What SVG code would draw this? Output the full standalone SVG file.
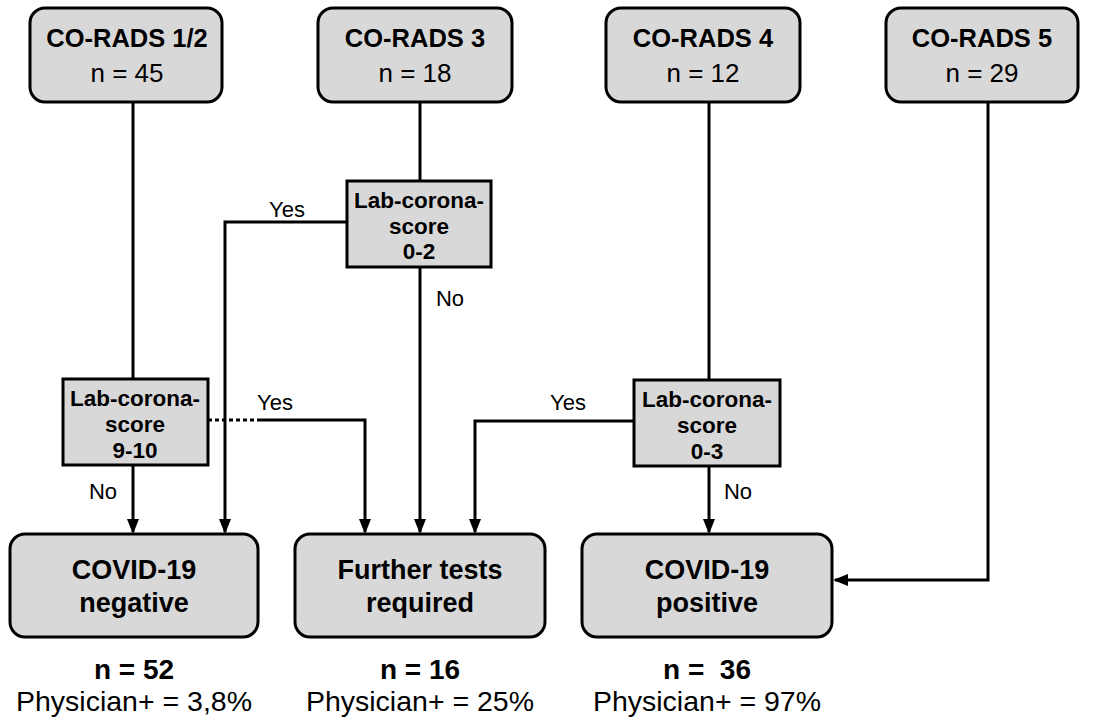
<svg xmlns="http://www.w3.org/2000/svg" width="1094" height="719" viewBox="0 0 1094 719">
<defs>
<style>
.rb{fill:#d9d8d8;stroke:#000;stroke-width:3}
.dec{fill:#d9d8d8;stroke:#000;stroke-width:3}
.ln{fill:none;stroke:#000;stroke-width:3}
text{font-family:"Liberation Sans",Arial,sans-serif;fill:#000;text-anchor:middle}
.h{font-size:25.5px;font-weight:bold}
.n{font-size:26px}
.d{font-size:22.5px;font-weight:bold}
.lbl{font-size:22px}
.o{font-size:27px;font-weight:bold}
.nb{font-size:28px;font-weight:bold}
.s{font-size:28.5px}
</style>
<marker id="ah" markerWidth="15" markerHeight="13" refX="13" refY="6.5" orient="auto" markerUnits="userSpaceOnUse">
<path d="M0,0.5 L15,6.5 L0,12.5 z" fill="#000"/>
</marker>
</defs>
<rect width="1094" height="719" fill="#fff"/>
<g id="connectors">
<path class="ln" d="M133,102 V380"/>
<path class="ln" d="M420,102 V181"/>
<path class="ln" d="M709,102 V381"/>
<path class="ln" d="M347,222 H225 V532" marker-end="url(#ah)"/>
<path class="ln" d="M420,267 V532" marker-end="url(#ah)"/>
<path class="ln" d="M133,465 V532" marker-end="url(#ah)"/>
<path class="ln" d="M208,420 H262" stroke-dasharray="4,3"/>
<path class="ln" d="M261,420 H365 V532" marker-end="url(#ah)"/>
<path class="ln" d="M634,421 H475 V532" marker-end="url(#ah)"/>
<path class="ln" d="M709,466 V532" marker-end="url(#ah)"/>
<path class="ln" d="M988,102 V580 H835" marker-end="url(#ah)"/>
<text class="lbl" x="287" y="217">Yes</text>
<text class="lbl" x="450" y="306">No</text>
<text class="lbl" x="275" y="410">Yes</text>
<text class="lbl" x="103" y="499">No</text>
<text class="lbl" x="568" y="410">Yes</text>
<text class="lbl" x="738" y="499">No</text>
</g>
<g id="corads12"><rect class="rb" x="30" y="8" width="192" height="94" rx="15"/><text class="h" x="127" y="47">CO-RADS 1/2</text><text class="n" x="127" y="82">n = 45</text></g>
<g id="corads3"><rect class="rb" x="318" y="8" width="194" height="94" rx="15"/><text class="h" x="415" y="47">CO-RADS 3</text><text class="n" x="415" y="82">n = 18</text></g>
<g id="corads4"><rect class="rb" x="606" y="8" width="194" height="94" rx="15"/><text class="h" x="703" y="47">CO-RADS 4</text><text class="n" x="703" y="82">n = 12</text></g>
<g id="corads5"><rect class="rb" x="886" y="8" width="192" height="94" rx="15"/><text class="h" x="982" y="47">CO-RADS 5</text><text class="n" x="982" y="82">n = 29</text></g>
<g id="lab02"><rect class="dec" x="347" y="181" width="144" height="86"/><text class="d" x="419" y="208">Lab-corona-</text><text class="d" x="419" y="234">score</text><text class="d" x="419" y="259">0-2</text></g>
<g id="lab910"><rect class="dec" x="63" y="379" width="145" height="86"/><text class="d" x="135" y="406">Lab-corona-</text><text class="d" x="135" y="432">score</text><text class="d" x="135" y="458">9-10</text></g>
<g id="lab03"><rect class="dec" x="634" y="380" width="146" height="86"/><text class="d" x="707" y="407">Lab-corona-</text><text class="d" x="707" y="433">score</text><text class="d" x="707" y="459">0-3</text></g>
<g id="negative"><rect class="rb" x="10" y="534" width="248" height="103" rx="15"/><text class="o" x="134" y="579">COVID-19</text><text class="o" x="134" y="612">negative</text></g>
<g id="further"><rect class="rb" x="295" y="534" width="250" height="103" rx="15"/><text class="o" x="420" y="579">Further tests</text><text class="o" x="420" y="612">required</text></g>
<g id="positive"><rect class="rb" x="582" y="534" width="250" height="103" rx="15"/><text class="o" x="707" y="579">COVID-19</text><text class="o" x="707" y="612">positive</text></g>
<g id="stats">
<text class="nb" x="134" y="679">n = 52</text><text class="s" x="134" y="711">Physician+ = 3,8%</text>
<text class="nb" x="420" y="679">n = 16</text><text class="s" x="420" y="711">Physician+ = 25%</text>
<text class="nb" x="707" y="679" xml:space="preserve">n =  36</text><text class="s" x="707" y="711">Physician+ = 97%</text>
</g>
</svg>
